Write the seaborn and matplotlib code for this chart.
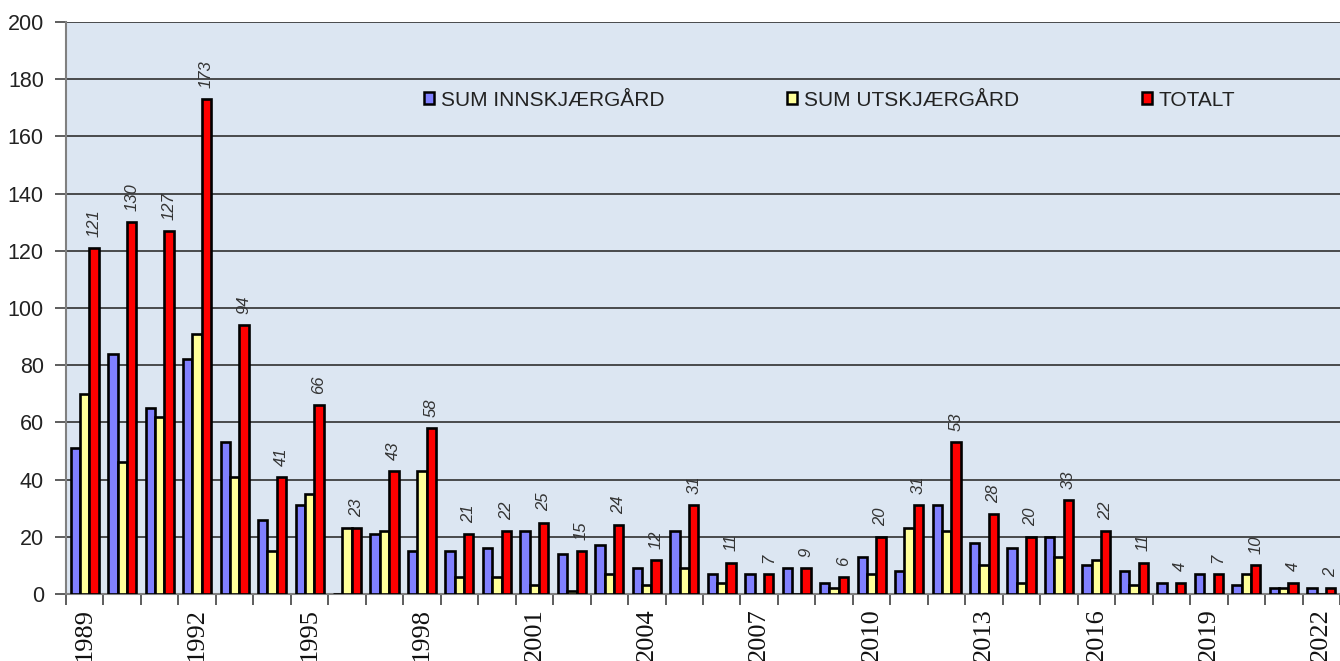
import numpy as np
import pandas as pd
import matplotlib
matplotlib.use("Agg")
import matplotlib.pyplot as plt
from matplotlib.patches import Patch
from matplotlib.ticker import FixedLocator, MultipleLocator
import seaborn as sns

years = list(range(1989, 2023))
innskjaergard = [51, 84, 65, 82, 53, 26, 31, 0, 21, 15, 15, 16, 22, 14, 17, 9, 22,
                 7, 7, 9, 4, 13, 8, 31, 18, 16, 20, 10, 8, 4, 7, 3, 2, 2]
utskjaergard = [70, 46, 62, 91, 41, 15, 35, 23, 22, 43, 6, 6, 3, 1, 7, 3, 9,
                4, 0, 0, 2, 7, 23, 22, 10, 4, 13, 12, 3, 0, 0, 7, 2, 0]
totalt = [121, 130, 127, 173, 94, 41, 66, 23, 43, 58, 21, 22, 25, 15, 24, 12, 31,
          11, 7, 9, 6, 20, 31, 53, 28, 20, 33, 22, 11, 4, 7, 10, 4, 2]

series_names = ["SUM INNSKJÆRGÅRD", "SUM UTSKJÆRGÅRD", "TOTALT"]
series_colors = ["#8080FF", "#FFFF99", "#FF0000"]

df = pd.DataFrame({
    "year": [str(y) for y in years] * 3,
    "value": innskjaergard + utskjaergard + totalt,
    "series": [series_names[0]] * len(years) + [series_names[1]] * len(years)
              + [series_names[2]] * len(years),
})

sns.set_theme(style="white")
plt.rcParams["font.family"] = ["Liberation Sans", "DejaVu Sans"]

fig = plt.figure(figsize=(13.4, 6.61), dpi=100)
ax = fig.add_axes([66 / 1340, 1 - 594 / 661, 1 - 66 / 1340, (594 - 22) / 661])
ax.set_facecolor("#DCE6F2")

sns.barplot(data=df, x="year", y="value", hue="series", hue_order=series_names,
            palette=series_colors, order=[str(y) for y in years], width=0.75,
            edgecolor="black", linewidth=1.9, saturation=1, legend=False, ax=ax,
            zorder=3)

ax.set_ylim(0, 200)
ax.set_xlim(-0.5, len(years) - 0.5)
ax.yaxis.set_major_locator(MultipleLocator(20))
ax.grid(axis="y", color="#303030", linewidth=1.2, zorder=0)
ax.set_axisbelow(True)

# year labels every third year, tick marks on category boundaries
ax.set_xticks(range(len(years)))
ax.set_xticklabels([str(y) if (y - 1989) % 3 == 0 else "" for y in years],
                   rotation=90, fontsize=19, family=["Liberation Serif", "DejaVu Serif"],
                   color="#111111")
ax.xaxis.set_minor_locator(FixedLocator(np.arange(-0.5, len(years), 1.0)))
ax.tick_params(axis="x", which="major", length=0, pad=10)
ax.tick_params(axis="x", which="minor", length=8, width=1.3, color="#505050",
               direction="out", bottom=True)
ax.tick_params(axis="y", which="major", length=8, width=1.3, color="#505050",
               direction="out", left=True, labelsize=15.5, labelcolor="#222222", pad=8)

ax.set_xlabel("")
ax.set_ylabel("")
for side in ("top", "right"):
    ax.spines[side].set_visible(False)
for side in ("left", "bottom"):
    ax.spines[side].set_color("#808080")
    ax.spines[side].set_linewidth(1.5)

# value labels above the total bars
red_bars = ax.containers[2]
for bar, val in zip(red_bars, totalt):
    ax.annotate(str(val), (bar.get_x() + bar.get_width() / 2, bar.get_height()),
                xytext=(0, 8), textcoords="offset points", ha="center", va="bottom",
                rotation=90, fontsize=12, style="italic", color="#333333", zorder=4)

handles = [Patch(facecolor=c, edgecolor="black", linewidth=1.8, label=n)
           for n, c in zip(series_names, series_colors)]
ax.legend(handles=handles, ncol=3, loc="center left",
          bbox_to_anchor=((424 - 66) / 1274, 1 - (100 - 22) / 572),
          frameon=False, fontsize=15, handlelength=0.5, handleheight=0.5,
          handletextpad=0.3, columnspacing=5.9, borderaxespad=0, borderpad=0,
          labelcolor="#222222")

fig.savefig("out.png", dpi=100, facecolor="white")
